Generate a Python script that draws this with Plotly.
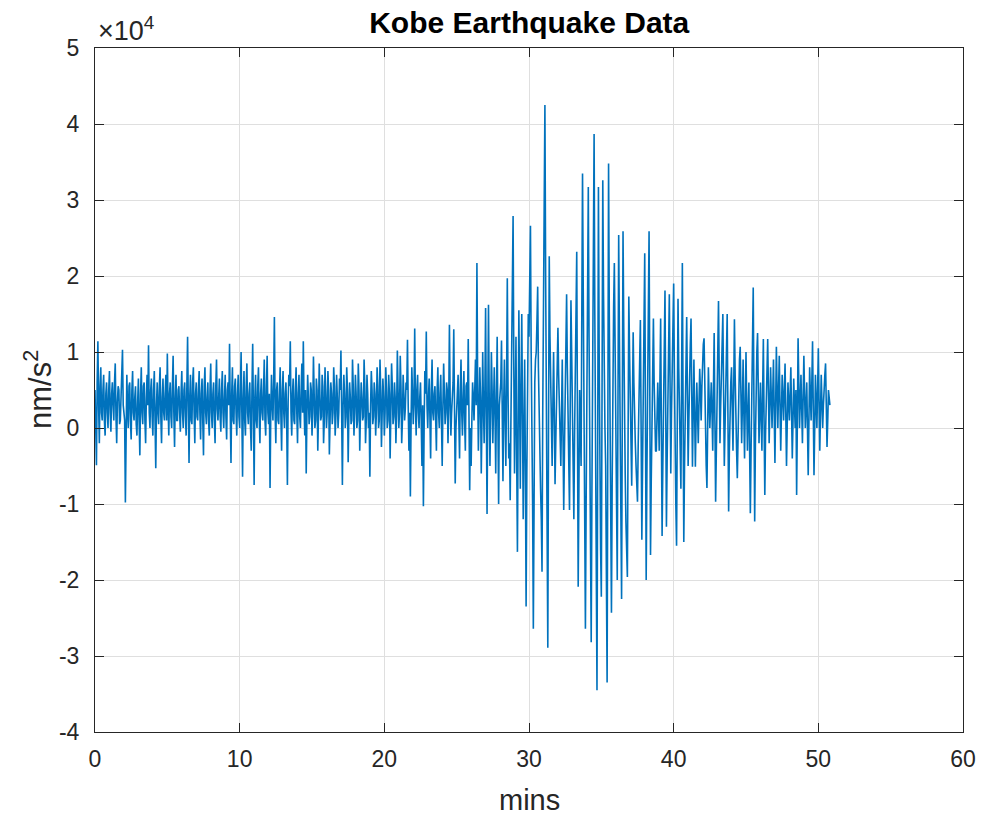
import numpy as np
import plotly.graph_objects as go

# Sampling interval (minutes); acceleration in units of 1e4 nm/s^2
sample_step_min = 0.1
# samples at t = 0.0, 0.1, 0.2, ...
accel_e4 = [
    0.5, -0.49, 1.14, -0.2, 0.8, 0.1, 0.7, -0.1, 0.6, 0.0,
    0.75, -0.05, 0.6, 0.1, 0.85, -0.2, 0.55, 0.05, 0.4, 1.03,
    0.2, -0.98, 0.7, 0.0, 0.6, -0.15, 0.75, 0.1, 0.55, -0.1,
    0.65, -0.36, 0.8, 0.05, 0.6, -0.2, 0.7, 1.09, 0.0, 0.65,
    -0.1, 0.75, -0.53, 0.6, 0.05, 0.8, -0.2, 0.65, 0.1, 0.7,
    0.98, -0.1, 0.6, 0.0, 0.95, -0.25, 0.7, 0.1, 0.55, -0.05,
    0.75, 0.0, 0.6, -0.1, 1.2, -0.46, 0.7, 0.05, 0.8, -0.2,
    0.6, 0.1, 0.75, -0.15, 0.65, -0.36, 0.8, 0.05, 0.6, -0.1,
    0.85, 0.0, 0.6, -0.2, 0.9, 0.1, 0.65, -0.05, 0.75, 0.0,
    0.7, -0.15, 0.6, 1.11, -0.46, 0.8, 0.05, 0.65, -0.1, 0.7,
    0.0, 1.0, -0.64, 0.75, -0.1, 0.85, 0.05, 0.6, -0.3, 1.11,
    -0.75, 0.7, 0.0, 0.8, -0.2, 0.65, 0.1, 0.9, -0.1, 0.95,
    0.05, -0.79, 0.7, 0.1, 1.46, -0.2, 0.6, 0.05, 0.8, -0.3,
    0.75, 0.0, 0.6, -0.75, 0.7, 1.14, -0.1, 0.65, 0.05, 0.8,
    -0.2, 0.7, 0.0, 0.85, 1.14, -0.1, -0.6, 0.7, 0.05, 0.6,
    -0.1, 0.94, 0.0, 0.65, -0.3, 0.85, 0.1, 0.7, -0.2, 0.8,
    0.0, 0.75, -0.35, 0.6, 0.05, 0.8, -0.1, 0.7, 0.0, 0.65,
    1.02, -0.75, 0.7, 0.0, 0.8, -0.45, 0.6, 0.05, 0.9, -0.1,
    0.7, 0.0, 0.85, -0.3, 0.6, 0.1, 0.9, -0.2, 0.7, 0.0,
    -0.64, 0.75, 0.05, 0.6, -0.1, 0.8, 0.0, 0.9, -0.25, 0.65,
    -0.1, 0.8, 0.0, 0.7, -0.4, 0.85, 0.05, 0.6, -0.2, 1.02,
    0.0, 0.95, -0.2, 0.7, 0.1, 0.6, 1.16, -0.3, -0.9, 0.8,
    0.05, 1.31, -0.1, 0.7, 0.0, 0.6, -0.5, -1.03, 0.75, 1.27,
    0.0, 0.65, -0.4, 0.9, 0.1, 0.55, -0.3, 0.8, 0.0, 0.7,
    -0.5, 0.85, 0.05, 0.6, -0.2, 1.36, -0.1, 0.5, 1.3, -0.73,
    0.2, 0.7, -0.4, 0.9, -0.1, 0.75, -0.3, 0.6, 1.17, -0.82,
    -0.5, 0.6, 0.1, 0.9, 2.17, -0.3, 0.8, -0.6, 1.0, -0.2,
    1.58, -1.13, 1.62, -0.5, 1.0, -0.2, 0.8, -0.6, 1.2, -1.0,
    0.4, 1.15, -0.7, 0.9, -0.5, 1.97, -0.4, -0.95, 1.0, 2.79,
    -0.6, 1.2, -1.63, 1.55, -0.8, 1.5, -1.2, 0.9, -2.35, 0.6,
    1.2, 2.66, 0.2, -2.64, 0.6, 1.0, 1.86, 0.0, -0.8, -1.89,
    1.5, 4.25, 0.0, -2.89, 2.26, 0.5, -0.5, 1.0, -0.74, 0.3,
    1.32, 0.2, -0.5, 0.9, -1.08, 0.4, 1.76, 0.0, -1.08, 1.68,
    0.3, -1.2, 0.8, 2.32, -2.09, 0.5, -0.5, 3.35, 0.2, -2.64,
    0.5, 3.17, -0.8, -2.82, 1.2, 3.87, -0.5, -3.45, 3.17, -1.0,
    -2.22, 3.26, 0.5, -0.5, -3.35, 3.48, -0.2, -2.43, 1.0, 2.17,
    -0.5, -2.0, 2.54, 0.2, -2.25, 2.59, 0.0, -1.24, -1.96, 1.73,
    0.2, -0.76, 1.26, 0.0, -0.5, -0.97, 0.6, 1.42, -1.47, 0.5,
    2.30, -2.0, 0.8, 2.59, -1.67, 0.3, 1.44, -0.2, -0.31, 0.6,
    -0.3, 1.44, -1.42, 0.5, 1.81, -1.3, 0.4, 1.76, -0.6, 0.9,
    1.9, -0.5, -1.55, 1.7, 0.0, -0.8, 2.17, -1.5, 0.4, 1.46,
    -0.5, 0.8, 1.44, -0.51, 0.9, -0.51, 0.6, -0.2, 0.78, 0.1,
    0.98, 1.18, -0.2, -0.79, 0.8, 0.0, 0.6, -0.3, 1.25, -0.97,
    0.3, 1.67, -0.2, 0.7, 1.5, -0.5, 0.6, 1.5, -1.1, 0.4,
    0.8, -0.3, 1.43, 0.0, -0.66, 0.7, 1.07, -0.2, 0.9, -0.4,
    1.0, -0.3, 0.6, -1.12, 0.4, 1.85, -1.23, 0.7, 1.25, -0.2,
    0.6, -0.3, 1.17, -0.88, 0.5, 1.17, -0.2, 0.8, 0.0, 0.9,
    -0.46, 1.07, 0.0, 0.95, -0.3, 0.7, 0.1, 0.85, -0.5, 0.6,
    0.1, 0.8, -0.4, 0.65, 0.0, -0.88, 1.18, 0.0, 0.7, -0.2,
    0.95, 0.0, 0.6, -0.62, 0.8, 0.1, 1.14, -0.62, 0.7, 0.0,
    1.05, -0.3, 0.7, 0.0, 0.6, 0.85, -0.25, 0.5, 0.3,
]
# samples at t = 0.05, 0.15, 0.25, ...
accel_mid_e4 = [
    0.1, 0.6, 0.3, 0.55, 0.2, 0.5, 0.1, 0.45, 0.2, 0.5,
    0.2, 0.45, 0.3, 0.6, 0.15, 0.35, 0.5, 0.1, 0.6, 0.3,
    0.1, 0.4, 0.25, 0.55, 0.1, 0.5, 0.2, 0.4, 0.05, 0.35,
    0.1, 0.45, 0.2, 0.55, 0.1, 0.4, 0.3, 0.2, 0.5, 0.15,
    0.5, 0.1, 0.3, 0.2, 0.55, 0.15, 0.4, 0.2, 0.45, 0.1,
    0.3, 0.45, 0.15, 0.55, 0.2, 0.4, 0.1, 0.5, 0.2, 0.45,
    0.2, 0.5, 0.15, 0.55, 0.3, 0.4, 0.1, 0.6, 0.2, 0.45,
    0.15, 0.5, 0.2, 0.45, 0.1, 0.55, 0.2, 0.4, 0.1, 0.5,
    0.2, 0.45, 0.1, 0.55, 0.25, 0.4, 0.15, 0.5, 0.2, 0.4,
    0.15, 0.5, 0.3, 0.2, 0.45, 0.1, 0.55, 0.2, 0.45, 0.15,
    0.5, 0.2, 0.4, 0.1, 0.55, 0.2, 0.45, 0.0, 0.5, 0.2,
    0.4, 0.1, 0.55, 0.15, 0.45, 0.2, 0.5, 0.1, 0.55, 0.2,
    0.45, 0.2, 0.3, 0.6, 0.2, 0.5, 0.1, 0.45, 0.15, 0.5,
    0.2, 0.45, 0.1, 0.35, 0.55, 0.2, 0.45, 0.1, 0.5, 0.2,
    0.45, 0.15, 0.5, 0.2, 0.3, 0.5, 0.2, 0.4, 0.15, 0.5,
    0.2, 0.45, 0.1, 0.5, 0.2, 0.4, 0.15, 0.55, 0.1, 0.45,
    0.2, 0.5, 0.1, 0.45, 0.2, 0.55, 0.15, 0.4, 0.2, 0.5,
    0.2, 0.3, 0.45, 0.15, 0.5, 0.2, 0.4, 0.1, 0.55, 0.2,
    0.45, 0.1, 0.5, 0.2, 0.4, 0.15, 0.55, 0.1, 0.45, 0.2,
    0.3, 0.5, 0.15, 0.45, 0.2, 0.55, 0.1, 0.5, 0.2, 0.4,
    0.2, 0.5, 0.1, 0.45, 0.2, 0.55, 0.15, 0.4, 0.2, 0.5,
    0.2, 0.55, 0.1, 0.45, 0.25, 0.5, 0.3, 0.2, 0.1, 0.45,
    0.4, 0.3, 0.5, 0.2, 0.4, 0.1, 0.3, 0.0, 0.45, 0.3,
    0.4, 0.15, 0.5, 0.2, 0.45, 0.1, 0.5, 0.2, 0.45, 0.1,
    0.3, 0.45, 0.2, 0.5, 0.3, 0.4, 0.2, 0.6, 0.3, 0.0,
    0.45, 0.1, 0.5, 0.2, 0.4, 0.1, 0.55, 0.3, 0.2, 0.0,
    0.1, 0.4, 0.5, 0.3, 0.6, 0.2, 0.4, 0.1, 0.3, 0.5,
    0.2, 0.3, 0.4, 0.2, 0.5, 0.3, 0.2, 0.4, 0.1, 0.3,
    0.6, 0.2, 0.3, 0.1, 0.6, 0.5, -0.2, 0.1, 1.5, 0.8,
    0.3, -0.4, 0.0, 0.4, 0.5, 0.2, -0.1, -0.5, -0.6, 1.5,
    1.8, 1.0, -1.0, -0.8, 0.9, 1.4, 0.8, -0.4, -1.2, 0.2,
    2.8, 2.0, -1.4, 0.0, 1.2, 0.0, 0.3, 0.2, -0.2, 0.8,
    0.7, -0.2, 0.2, -0.1, -0.3, 1.0, 0.8, -0.5, 0.3, 1.0,
    -0.5, -0.1, 1.5, 0.1, -0.8, 0.0, 1.5, 1.8, -1.2, -1.0,
    1.8, 1.2, -1.8, -0.8, 2.5, 1.5, -2.0, -0.2, 1.0, -1.6,
    0.5, 1.8, 0.0, -2.0, 0.0, 1.5, -1.3, -0.7, 1.6, 0.8,
    -1.2, 0.3, 1.2, -1.0, 0.2, 1.3, -0.6, -1.6, -0.1, 1.0,
    -0.3, 0.3, 0.6, -0.2, -0.7, -0.2, 1.0, 0.0, -0.5, 1.4,
    0.2, -0.6, 1.7, 0.5, -0.7, 0.9, 0.6, -0.3, 0.1, 0.2,
    0.6, 0.0, -0.5, 1.2, 0.3, -0.4, 1.1, 0.6, 0.2, 1.4,
    0.7, -1.0, 0.1, 0.8, -0.4, 0.7, 0.3, -0.5, 0.9, 0.5,
    0.1, 1.1, 0.5, 0.2, 0.2, 0.1, 0.2, 0.3, 0.5, 0.55,
    1.1, 0.5, -0.5, 0.0, 0.4, 0.3, 0.2, 0.5, 0.1, -0.3,
    0.9, 0.7, 0.3, 1.1, 0.5, 0.0, 1.0, 0.2, -0.3, 0.6,
    0.2, 0.5, 0.7, -0.3, 0.0, 0.9, 0.4, 0.3, 0.2, 0.3,
    0.3, 0.2, -0.3, -0.3, 1.1, 0.3, -0.2, 1.0, 0.5, 0.2,
    0.1, 0.5, 0.1, -0.1, 0.8, 0.5, 0.3, 0.4, 0.45, 0.2,
    0.3, 0.5, 0.5, 0.3, 0.2, 0.4, 0.5, 0.2, 0.05, 0.35,
    0.45, 0.2, 0.1, 0.3, 0.5, 0.1, 0.6, 0.35, 0.25, 0.4,
    0.45, 0.3, 0.0, 0.1, 0.45, 0.6, 0.25, 0.0, 0.35, 0.5,
    0.35, 0.2, 0.35, 0.3, 0.7, 0.3, 0.1, 0.4,
]

t_main = np.arange(len(accel_e4)) * sample_step_min
t_mid = np.arange(len(accel_mid_e4)) * sample_step_min + sample_step_min / 2
order = np.argsort(np.concatenate([t_main, t_mid]), kind="stable")
minutes = np.concatenate([t_main, t_mid])[order]
accel = np.concatenate([np.array(accel_e4), np.array(accel_mid_e4)])[order]

x_ticks = [0, 10, 20, 30, 40, 50, 60]
y_ticks = [-4, -3, -2, -1, 0, 1, 2, 3, 4, 5]
y_tick_labels = ["-4", "-3", "-2", "-1", "0", "1", "2", "3", "4", "5"]

title_text = "Kobe Earthquake Data"
x_label = "mins"
y_label = "nm/s<sup>2</sup>"
exponent_label = "\u00d710<sup>4</sup>"

ink = "#262626"
grid = "#dfdfdf"
line_color = "#0072BD"
font_family = "Liberation Sans, Arial, Helvetica, sans-serif"

fig = go.Figure()
fig.add_trace(go.Scatter(
    x=minutes, y=accel, mode="lines",
    line=dict(color=line_color, width=1.6),
    hoverinfo="skip", showlegend=False,
))

axis_common = dict(
    showline=True, linecolor=ink, linewidth=1, mirror="ticks",
    ticks="inside", ticklen=9, tickwidth=1, tickcolor=ink,
    showgrid=True, gridcolor=grid, gridwidth=1, zeroline=False,
    tickfont=dict(family=font_family, size=23, color=ink),
    automargin=False,
)

fig.update_xaxes(
    range=[0, 60], tickvals=x_ticks, ticktext=[str(v) for v in x_ticks],
    ticklabelstandoff=6,
    **axis_common,
)
fig.update_yaxes(
    range=[-4, 5], tickvals=y_ticks, ticktext=y_tick_labels,
    ticklabelstandoff=10,
    **axis_common,
)

fig.update_layout(
    width=981, height=817,
    margin=dict(l=95, r=18, t=48, b=85, autoexpand=False),
    paper_bgcolor="white", plot_bgcolor="white",
    title=dict(text="<b>" + title_text + "</b>", x=0.5395, xanchor="center",
               y=0.973, yanchor="middle",
               font=dict(family=font_family, size=30, color="#000000"),
               automargin=False),
    annotations=[
        dict(text=exponent_label, xref="paper", yref="paper", x=0, y=1,
             xanchor="left", yanchor="bottom", xshift=1, yshift=0, showarrow=False,
             font=dict(family=font_family, size=27, color=ink)),
        dict(text=x_label, xref="paper", yref="paper", x=0.5, y=0,
             xanchor="center", yanchor="middle", yshift=-68, showarrow=False,
             font=dict(family=font_family, size=29, color=ink)),
        dict(text=y_label, xref="paper", yref="paper", x=0, y=0.5,
             xanchor="center", yanchor="middle", xshift=-57, textangle=-90,
             showarrow=False,
             font=dict(family=font_family, size=31, color=ink)),
    ],
)

fig.write_html("out.html", config={"displayModeBar": False},
               post_script="document.body.style.margin='0';")
